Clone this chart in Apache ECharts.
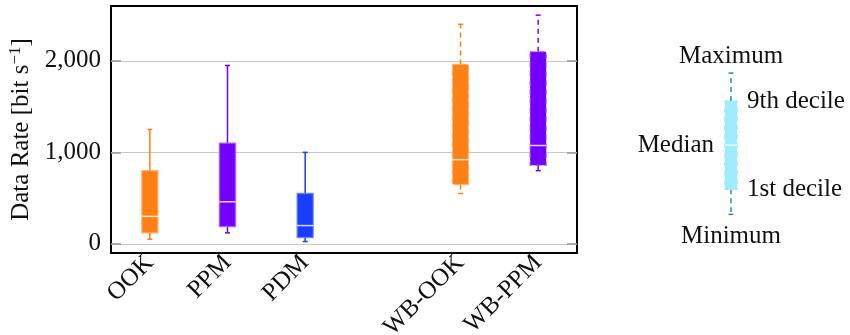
<!DOCTYPE html>
<html><head><meta charset="utf-8">
<script src="https://cdn.jsdelivr.net/npm/echarts@6/dist/echarts.min.js"></script>
<style>html,body{margin:0;padding:0;background:#fff}#c{width:850px;height:335px}</style>
</head><body><div id="c"></div>
<script>
// ---- data ----
const categories = ['OOK', 'PPM', 'PDM', '', 'WB-OOK', 'WB-PPM'];
const minimum = [50, 120, 25, null, 550, 800];
const decile1 = [120, 190, 70, null, 650, 860];
const median  = [300, 460, 200, null, 920, 1075];
const decile9 = [800, 1100, 550, null, 1960, 2100];
const maximum = [1250, 1950, 1000, null, 2400, 2500];
const yTicks = [0, 1000, 2000];
const legendNames = ['Minimum', '1st decile', 'Median', '9th decile', 'Maximum'];
const legendStats = [1.2, 2.6, 5.05, 7.5, 9.05];

// ---- styles ----
const FONT = '"Liberation Serif", "DejaVu Serif", serif';
const FS = 25;
const colors = ['#ff8014', '#7300ff', '#1a3cff', '#000', '#ff8014', '#7300ff'];
const dashed = [false, false, false, false, true, true];
const legendFill = '#a0ecff', legendWhisker = '#2a8ca8';

const boxData = [];
categories.forEach((c, i) => {
  if (median[i] != null) boxData.push([i, minimum[i], decile1[i], median[i], decile9[i], maximum[i]]);
});

function boxShapes(api, x, vals, opt) {
  const y = v => api.coord([opt.xv, v])[1];
  const [yMin, yQ1, yMed, yQ9, yMax] = vals.map(y);
  const hw = opt.halfW, cw = opt.capW;
  const dash = opt.dashed ? [5, 4] : null;
  const wl = {stroke: opt.whisker, lineWidth: 1.5, lineDash: dash};
  return [
    {type: 'line', shape: {x1: x, y1: yQ1, x2: x, y2: yMin}, style: wl},
    {type: 'line', shape: {x1: x, y1: yQ9, x2: x, y2: yMax}, style: wl},
    {type: 'line', shape: {x1: x - cw, y1: yMin, x2: x + cw, y2: yMin}, style: {stroke: opt.whisker, lineWidth: 1.5}},
    {type: 'line', shape: {x1: x - cw, y1: yMax, x2: x + cw, y2: yMax}, style: {stroke: opt.whisker, lineWidth: 1.5}},
    {type: 'rect', shape: {x: x - hw, y: yQ9, width: 2 * hw, height: yQ1 - yQ9},
      style: {fill: opt.fill, stroke: opt.border, lineWidth: 1.5, lineDash: dash}},
    {type: 'line', shape: {x1: x - hw, y1: yMed, x2: x + hw, y2: yMed},
      style: {stroke: 'rgba(255,255,255,0.8)', lineWidth: 1.5}}
  ];
}

function renderBox(params, api) {
  const i = api.value(0);
  const x = api.coord([i, api.value(3)])[0];
  const vals = [1, 2, 3, 4, 5].map(k => api.value(k));
  const col = colors[i];
  return {type: 'group', children: boxShapes(api, x, vals, {
    xv: i, halfW: 8, capW: 2.5, dashed: dashed[i], whisker: col, fill: col,
    border: echarts.color.modifyAlpha(echarts.color.lift(col, 0.3), 0.7)
  })};
}

function renderLegend(params, api) {
  const x = api.coord([0, 0])[0];
  const vals = [1, 2, 3, 4, 5].map(k => api.value(k));
  const y = v => api.coord([0, v])[1];
  const shapes = boxShapes(api, x, vals, {
    xv: 0, halfW: 6, capW: 2.5, dashed: true, whisker: legendWhisker, fill: legendFill, border: legendFill
  });
  const t = (text, tx, ty, align) => ({type: 'text', style: {text, x: tx, y: ty, fill: '#111',
    font: FS + 'px ' + FONT, align, verticalAlign: 'middle'}});
  shapes.push(t(legendNames[4], x, y(10), 'center'));
  shapes.push(t(legendNames[0], x, y(0), 'center'));
  shapes.push(t(legendNames[3], x + 16, y(vals[3]), 'left'));
  shapes.push(t(legendNames[1], x + 16, y(vals[1]), 'left'));
  shapes.push(t(legendNames[2], x - 17, y(vals[2]), 'right'));
  return {type: 'group', children: shapes};
}

const chart = echarts.init(document.getElementById('c'), null, {renderer: 'canvas'});
const tickFmt = v => v.toLocaleString('en-US');
chart.setOption({
  animation: false,
  textStyle: {fontFamily: FONT},
  grid: [
    {left: 111, right: 273, top: 6, bottom: 82, show: true, borderColor: '#000', borderWidth: 2,
      backgroundColor: 'transparent', containLabel: false, outerBoundsMode: 'none'},
    {left: 711, width: 40, top: 56, height: 180, containLabel: false, outerBoundsMode: 'none'}
  ],
  xAxis: [
    {type: 'category', data: categories, gridIndex: 0,
      axisLine: {show: false}, axisTick: {show: false},
      axisLabel: {rotate: 45, margin: 6, fontSize: FS, color: '#111', fontFamily: FONT, interval: 0}},
    {type: 'category', data: [''], gridIndex: 1, show: false}
  ],
  yAxis: [
    {type: 'value', gridIndex: 0, min: -100, max: 2600,
      name: 'Data Rate [bit s{sup|−1}]', nameLocation: 'middle', nameGap: 74,
      nameTextStyle: {fontSize: FS, color: '#111', fontFamily: FONT,
        rich: {sup: {fontSize: 17, verticalAlign: 'top', color: '#111', fontFamily: FONT, padding: [0, 0, 12, 0]}}},
      axisLine: {show: false},
      axisTick: {show: true, inside: true, length: 10, customValues: yTicks, lineStyle: {color: '#999', width: 1.5}},
      axisLabel: {customValues: yTicks, formatter: tickFmt, fontSize: FS, color: '#111', fontFamily: FONT, margin: 10},
      splitLine: {show: true, lineStyle: {color: '#c8c8c8', width: 1.2}}},
    {type: 'value', gridIndex: 0, min: -100, max: 2600, position: 'right',
      axisLine: {show: false},
      axisTick: {show: true, inside: true, length: 10, customValues: yTicks, lineStyle: {color: '#999', width: 1.5}},
      axisLabel: {show: false}, splitLine: {show: false}},
    {type: 'value', gridIndex: 1, min: 0, max: 10, show: false}
  ],
  series: [
    {type: 'custom', xAxisIndex: 0, yAxisIndex: 0, renderItem: renderBox, data: boxData,
      encode: {x: 0, y: [1, 2, 3, 4, 5]}, clip: false},
    {type: 'custom', xAxisIndex: 1, yAxisIndex: 2, renderItem: renderLegend,
      data: [[0].concat(legendStats)], encode: {x: 0, y: [1, 2, 3, 4, 5]}, clip: false}
  ]
});
</script></body></html>
